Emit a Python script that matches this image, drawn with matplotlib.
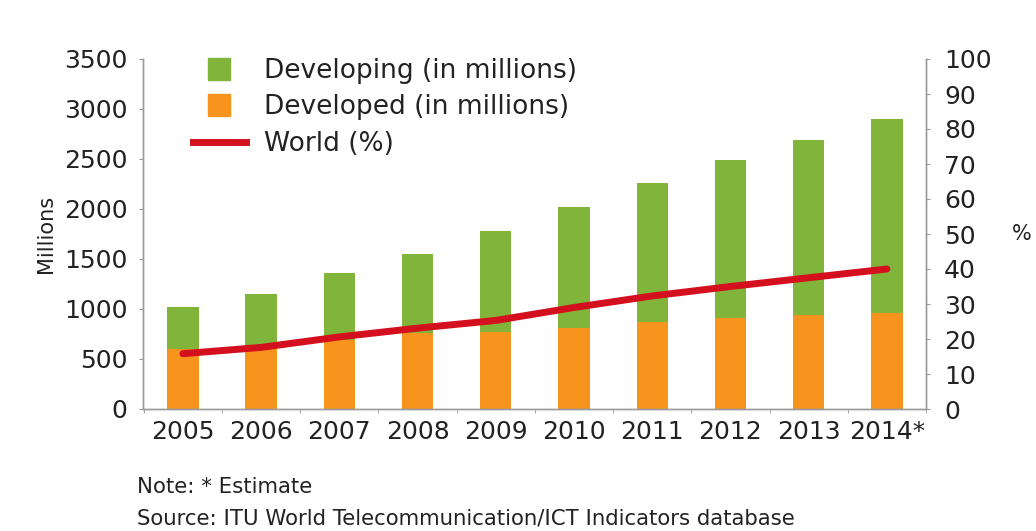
import matplotlib
matplotlib.use("Agg")
import matplotlib.pyplot as plt
from matplotlib.lines import Line2D
import numpy as np

years = ["2005", "2006", "2007", "2008", "2009", "2010", "2011", "2012", "2013", "2014*"]
developed = [600, 630, 690, 760, 770, 810, 870, 910, 940, 960]
total = [1020, 1150, 1360, 1550, 1780, 2020, 2260, 2490, 2690, 2900]
developing = [t - d for t, d in zip(total, developed)]
world_pct = [15.8, 17.6, 20.6, 23.1, 25.3, 29.0, 32.3, 35.0, 37.5, 40.0]

green = "#80b43a"
orange = "#f7941e"
red = "#d40f1e"
grey = "#9a9a9a"

plt.rcParams["font.family"] = ["DejaVu Sans"]

fig = plt.figure(figsize=(10.36, 5.31), dpi=100)
ax = fig.add_axes([143 / 1036, 1 - 409 / 531, 783 / 1036, 350 / 531])
x = np.arange(len(years))

ax.bar(x, developed, width=0.4, color=orange, zorder=2)
ax.bar(x, developing, width=0.4, bottom=developed, color=green, zorder=2)
ax.set_xlim(-0.51, 9.49)
ax.set_ylim(0, 3500)
ax.set_yticks(range(0, 3501, 500))
ax.set_xticks(x)
ax.set_xticklabels(years)
ax.set_xticks(np.arange(-0.5, 9.6, 1), minor=True)
ax.tick_params(axis="x", which="major", length=0, pad=8, labelsize=18, colors="#222222")
ax.tick_params(axis="x", which="minor", length=3, color=grey)
ax.tick_params(axis="y", length=3, color=grey, pad=8, labelsize=18, labelcolor="#222222")
ax.set_ylabel("Millions", fontsize=15, color="#222222", labelpad=6)

ax2 = ax.twinx()
ax2.plot(x, world_pct, color=red, lw=5, solid_capstyle="round", zorder=3)
ax2.set_ylim(0, 100)
ax2.set_yticks(range(0, 101, 10))
ax2.tick_params(axis="y", length=3, color=grey, pad=10, labelsize=18, labelcolor="#222222")
ax2.set_ylabel("%", fontsize=15, rotation=0, color="#222222", labelpad=22, va="center")

for a in (ax, ax2):
    a.spines["top"].set_visible(False)
    for s in ("left", "right", "bottom"):
        a.spines[s].set_color(grey)
        a.spines[s].set_linewidth(1)

handles = [
    Line2D([], [], color=green, marker="s", markersize=16, lw=0),
    Line2D([], [], color=orange, marker="s", markersize=16, lw=0),
    Line2D([], [], color=red, lw=5),
]
labels = ["Developing (in millions)", "Developed (in millions)", "World (%)"]
leg = ax.legend(handles, labels, loc="upper left", bbox_to_anchor=(26 / 783, 1.071),
                frameon=False, fontsize=19, handlelength=2.0, handletextpad=0.7,
                labelspacing=0.4, labelcolor="#222222")

fig.text(137 / 1036, 1 - 487 / 531, "Note: * Estimate", fontsize=15.3, color="#222222", va="center")
fig.text(137 / 1036, 1 - 518 / 531, "Source: ITU World Telecommunication/ICT Indicators database",
         fontsize=15.3, color="#222222", va="center")

fig.savefig("out.png", dpi=100, facecolor="white")
